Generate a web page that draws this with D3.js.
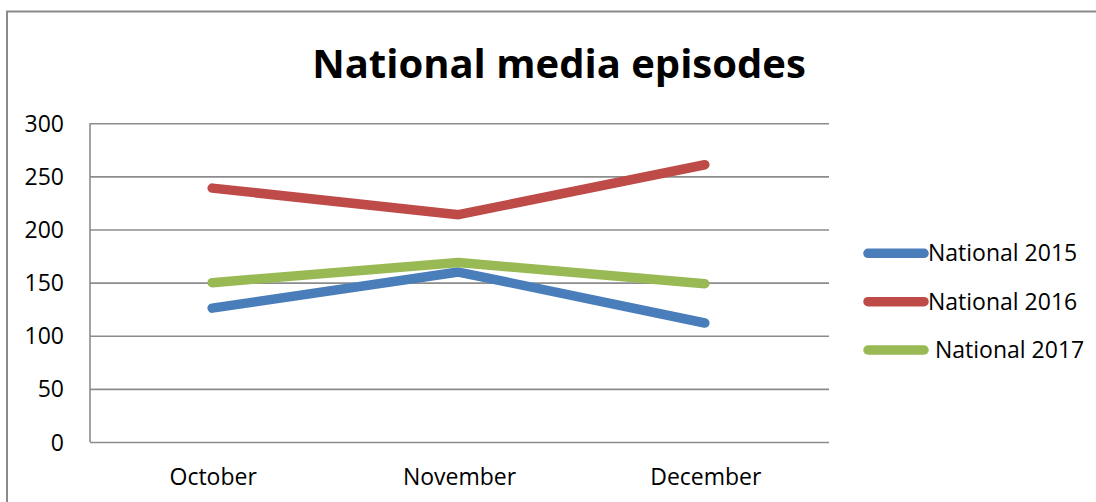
<!DOCTYPE html>
<html>
<head>
<meta charset="utf-8">
<script src="https://cdn.jsdelivr.net/npm/d3@7"></script>
<style>
  html, body { margin: 0; padding: 0; background: #fff; }
  svg { display: block; }
  text { font-family: "Open Sans", Lato, sans-serif; fill: #000; }
</style>
</head>
<body>
<svg id="chart" width="1096" height="502"></svg>
<script>
const categories = ["October", "November", "December"];
const seriesNames = ["National 2015", "National 2016", "National 2017"];
const national2015 = [126, 160, 112];
const national2016 = [239, 214, 261];
const national2017 = [150, 169, 149];
const yTicks = [0, 50, 100, 150, 200, 250, 300];
const colors = ["#4a7ebb", "#be4b48", "#98b954"];

const series = [
  { name: seriesNames[0], values: national2015, color: colors[0] },
  { name: seriesNames[1], values: national2016, color: colors[1] },
  { name: seriesNames[2], values: national2017, color: colors[2] }
];

const FONT = "'Open Sans', Lato, sans-serif";
const svg = d3.select("#chart");
const plot = { left: 90, right: 829, top: 123.3, bottom: 442 };

// outer border (left and top)
svg.append("line").attr("x1", 7).attr("x2", 7).attr("y1", 11).attr("y2", 502)
  .attr("stroke", "#8a8a8a").attr("stroke-width", 2);
svg.append("line").attr("x1", 6).attr("x2", 1096).attr("y1", 11.5).attr("y2", 11.5)
  .attr("stroke", "#8a8a8a").attr("stroke-width", 2);

const x = d3.scaleBand().domain(categories).range([plot.left, plot.right]);
const y = d3.scaleLinear().domain([0, 300]).range([plot.bottom, plot.top]);

// title
svg.append("text").attr("x", 559).attr("y", 78).attr("text-anchor", "middle")
  .attr("font-size", 40).attr("font-weight", "bold").text("National media episodes");

// gridlines
const gy = svg.append("g").attr("transform", `translate(${plot.left},0)`)
  .call(d3.axisLeft(y).tickValues(yTicks).tickSize(-(plot.right - plot.left)).tickFormat(""));
gy.select(".domain").remove();
gy.selectAll(".tick line").attr("stroke", "#8c8c8c").attr("stroke-width", 1.6);

// y axis line
svg.append("line").attr("x1", plot.left).attr("x2", plot.left).attr("y1", plot.top).attr("y2", plot.bottom)
  .attr("stroke", "#8c8c8c").attr("stroke-width", 1.6);

// y tick labels
const yl = svg.append("g").attr("transform", `translate(64,0)`)
  .call(d3.axisLeft(y).tickValues(yTicks).tickSize(0).tickPadding(0));
yl.select(".domain").remove();
yl.selectAll(".tick text").attr("font-size", 23).attr("fill", "#000")
  .attr("font-family", FONT).attr("dy", "0.35em");

// x labels
const xl = svg.append("g").attr("transform", `translate(0,${plot.bottom})`)
  .call(d3.axisBottom(x).tickSize(0).tickPadding(0));
xl.select(".domain").remove();
xl.selectAll(".tick text").attr("font-size", 23).attr("fill", "#000")
  .attr("font-family", FONT).attr("y", 43).attr("dy", 0);

// lines
const line = d3.line()
  .x((d, i) => x(categories[i]) + x.bandwidth() / 2 - 1)
  .y(d => y(d));

svg.append("g").selectAll("path").data(series).join("path")
  .attr("d", d => line(d.values))
  .attr("fill", "none")
  .attr("stroke", d => d.color)
  .attr("stroke-width", 9.5)
  .attr("stroke-linecap", "round")
  .attr("stroke-linejoin", "round");

// legend
const legendY = [253.3, 301.7, 350];
const legendTextX = [928, 928, 935];
const lg = svg.append("g").selectAll("g").data(series).join("g");
lg.append("line")
  .attr("x1", 868).attr("x2", 924)
  .attr("y1", (d, i) => legendY[i]).attr("y2", (d, i) => legendY[i])
  .attr("stroke", d => d.color).attr("stroke-width", 9.5).attr("stroke-linecap", "round");
lg.append("text")
  .attr("x", (d, i) => legendTextX[i]).attr("y", (d, i) => legendY[i])
  .attr("dy", "0.35em").attr("font-size", 23)
  .text(d => d.name);
</script>
</body>
</html>
